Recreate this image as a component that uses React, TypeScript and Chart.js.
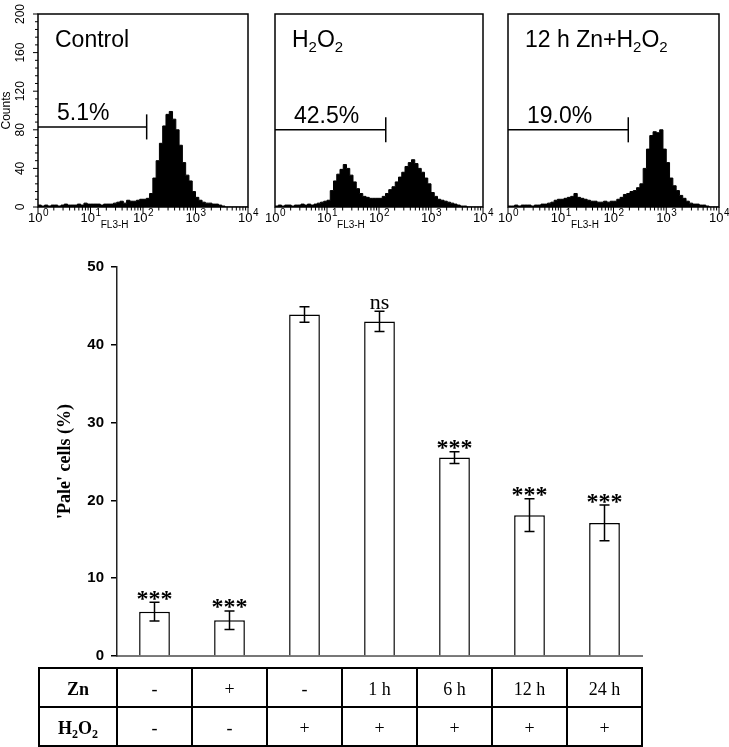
import React, { useEffect, useRef } from "react";
import { Chart, registerables } from "chart.js";

Chart.register(...registerables);

const SANS = '"Liberation Sans", Arial, sans-serif';
const SERIF = '"Liberation Serif", "Times New Roman", serif';

// ---------- Flow-cytometry histograms (x = log10 FL3-H, 16 bins per decade) ----------
const decadeTicks = [0, 1, 2, 3, 4];
const binsPerDecade = 16;
const controlCounts = [
  2, 1, 2, 1, 2, 2, 1, 2, 3, 2, 2, 2, 3, 2, 4, 3,
  3, 3, 3, 2, 3, 3, 3, 4, 5, 6, 4, 7, 6, 6, 7, 8,
  8, 9, 14, 30, 48, 66, 84, 96, 99, 91, 80, 64, 46, 33, 27, 16,
  10, 7, 5, 4, 4, 3, 3, 2, 1, 0, 0, 0, 0, 0, 0, 0,
];
const h2o2Counts = [
  1, 2, 1, 2, 2, 1, 2, 2, 3, 2, 3, 2, 3, 4, 5, 6,
  7, 17, 27, 34, 39, 44, 40, 33, 26, 19, 14, 11, 10, 9, 9, 9,
  9, 11, 14, 18, 21, 26, 31, 36, 42, 46, 49, 45, 40, 36, 30, 24,
  15, 11, 8, 7, 6, 5, 4, 3, 2, 1, 1, 0, 0, 0, 0, 0,
];
const znH2o2Counts = [
  1, 1, 2, 1, 2, 2, 2, 1, 2, 2, 3, 3, 4, 5, 7, 8,
  8, 9, 10, 11, 14, 10, 9, 8, 7, 6, 6, 5, 5, 6, 5, 6,
  6, 8, 10, 13, 14, 16, 17, 20, 24, 40, 60, 74, 78, 77, 80, 60,
  46, 30, 22, 17, 12, 9, 6, 4, 3, 3, 2, 2, 1, 0, 0, 0,
];
const panelCounts = [controlCounts, h2o2Counts, znH2o2Counts];
const panelTitles = ["Control", "H_2O_2", "12 h Zn+H_2O_2"];
const gateLabels = ["5.1%", "42.5%", "19.0%"];
const gateEnds = [2.07, 2.13, 2.28];
const gateLevels = [83, 80, 80];
const gateTickHalf = 13;
const countTicks = [0, 40, 80, 120, 160, 200];
const countMinorStep = 8;
const countAxisTitle = "Counts";
const fluorAxisTitle = "FL3-H";

// ---------- 'Pale' cells bar chart ----------
const znRow = ["-", "+", "-", "1 h", "6 h", "12 h", "24 h"];
const h2o2Row = ["-", "-", "+", "+", "+", "+", "+"];
const rowHeaders = ["Zn", "H_2O_2"];
const paleMeans = [5.7, 4.6, 43.9, 43.0, 25.5, 18.1, 17.1];
const paleErrors = [1.2, 1.2, 1.0, 1.3, 0.75, 2.1, 2.3];
const significance = ["***", "***", "", "ns", "***", "***", "***"];
const paleTicks = [0, 10, 20, 30, 40, 50];
const paleAxisTitle = "'Pale' cells (%)";

// ---------- helpers ----------
type Part = { t: string; sub: boolean };
function parseRich(s: string): Part[] {
  const parts: Part[] = [];
  for (let i = 0; i < s.length; i++) {
    if (s[i] === "_" && i + 1 < s.length) {
      parts.push({ t: s[i + 1], sub: true });
      i++;
    } else {
      const last = parts[parts.length - 1];
      if (last && !last.sub) last.t += s[i];
      else parts.push({ t: s[i], sub: false });
    }
  }
  return parts;
}

function drawRich(
  ctx: CanvasRenderingContext2D,
  s: string,
  x: number,
  y: number,
  size: number,
  family: string,
  weight = "normal",
  align: "left" | "center" = "left"
) {
  const parts = parseRich(s);
  const subSize = Math.round(size * 0.65);
  const widths = parts.map((p) => {
    ctx.font = `${weight} ${p.sub ? subSize : size}px ${family}`;
    return ctx.measureText(p.t).width;
  });
  const total = widths.reduce((a, b) => a + b, 0);
  let cx = align === "center" ? x - total / 2 : x;
  ctx.textAlign = "left";
  ctx.textBaseline = "alphabetic";
  parts.forEach((p, i) => {
    ctx.font = `${weight} ${p.sub ? subSize : size}px ${family}`;
    ctx.fillText(p.t, cx, p.sub ? y + size * 0.22 : y);
    cx += widths[i];
  });
}

function drawPow(ctx: CanvasRenderingContext2D, cx: number, baseY: number, exp: number) {
  ctx.textAlign = "left";
  ctx.textBaseline = "alphabetic";
  ctx.font = `13px ${SANS}`;
  const wb = ctx.measureText("10").width;
  ctx.font = `10px ${SANS}`;
  const we = ctx.measureText(String(exp)).width;
  const start = cx - (wb + we) / 2;
  ctx.font = `13px ${SANS}`;
  ctx.fillText("10", start, baseY);
  ctx.font = `10px ${SANS}`;
  ctx.fillText(String(exp), start + wb + 0.5, baseY - 6);
}

const W = 729;
const HIST_H = 235;
const HIST_TOP = 14;
const HIST_BOTTOM = 207;
const boxes = [
  { l: 38, r: 248 },
  { l: 275, r: 483 },
  { l: 508, r: 719 },
];
const fluorTitleAt = 1.46;

function histPlugin(idx: number) {
  return {
    id: "histDecor" + idx,
    afterDraw(chart: any) {
      const { ctx, chartArea: a, scales } = chart;
      const x = scales.x;
      const y = scales.y;
      ctx.save();
      ctx.strokeStyle = "#000";
      ctx.fillStyle = "#000";
      ctx.lineWidth = 1.5;
      ctx.strokeRect(a.left, a.top, a.right - a.left, a.bottom - a.top);
      // x ticks
      ctx.lineWidth = 1;
      ctx.beginPath();
      decadeTicks.forEach((d) => {
        const px = x.getPixelForValue(d);
        ctx.moveTo(px, a.bottom);
        ctx.lineTo(px, a.bottom + 6);
      });
      decadeTicks.slice(0, -1).forEach((d) => {
        for (let k = 2; k <= 9; k++) {
          const px = x.getPixelForValue(d + Math.log10(k));
          ctx.moveTo(px, a.bottom);
          ctx.lineTo(px, a.bottom + 3.5);
        }
      });
      ctx.stroke();
      decadeTicks.forEach((d) => drawPow(ctx, x.getPixelForValue(d), a.bottom + 15, d));
      ctx.font = `10px ${SANS}`;
      ctx.textAlign = "center";
      ctx.fillText(fluorAxisTitle, x.getPixelForValue(fluorTitleAt), a.bottom + 21);

      // y axis (first panel only)
      if (idx === 0) {
        ctx.beginPath();
        const maxC = countTicks[countTicks.length - 1];
        for (let v = 0; v <= maxC; v += countMinorStep) {
          const py = y.getPixelForValue(v);
          const len = countTicks.includes(v) ? 5 : 3;
          ctx.moveTo(a.left - len, py);
          ctx.lineTo(a.left, py);
        }
        ctx.stroke();
        ctx.font = `12px ${SANS}`;
        ctx.textAlign = "center";
        ctx.textBaseline = "middle";
        countTicks.forEach((v) => {
          ctx.save();
          ctx.translate(a.left - 17, y.getPixelForValue(v));
          ctx.rotate(-Math.PI / 2);
          ctx.fillText(String(v), 0, 0);
          ctx.restore();
        });
        ctx.save();
        ctx.font = `12px ${SANS}`;
        ctx.translate(7, (a.top + a.bottom) / 2);
        ctx.rotate(-Math.PI / 2);
        ctx.fillText(countAxisTitle, 0, 0);
        ctx.restore();
      }

      // title + gate label
      drawRich(ctx, panelTitles[idx], a.left + 17, a.top + 33, 23, SANS);
      drawRich(ctx, gateLabels[idx], a.left + 19, y.getPixelForValue(gateLevels[idx]) - 7, 23, SANS);
      ctx.restore();
    },
  };
}

function Histogram({ idx }: { idx: number }) {
  const ref = useRef<HTMLCanvasElement | null>(null);
  useEffect(() => {
    const counts = panelCounts[idx];
    const pts = counts.map((c, i) => ({ x: i / binsPerDecade, y: c }));
    pts.push({ x: decadeTicks[decadeTicks.length - 1], y: counts[counts.length - 1] });
    const gx = gateEnds[idx];
    const gy = gateLevels[idx];
    const box = boxes[idx];
    const chart = new Chart(ref.current as HTMLCanvasElement, {
      type: "line",
      data: {
        datasets: [
          {
            data: pts,
            stepped: "before",
            fill: "origin",
            backgroundColor: "#000",
            borderColor: "#000",
            borderWidth: 1,
            pointRadius: 0,
          } as any,
          {
            data: [
              { x: 0, y: gy },
              { x: gx, y: gy },
            ],
            borderColor: "#000",
            borderWidth: 1.5,
            pointRadius: 0,
            fill: false,
          },
          {
            data: [
              { x: gx, y: gy - gateTickHalf },
              { x: gx, y: gy + gateTickHalf },
            ],
            borderColor: "#000",
            borderWidth: 1.5,
            pointRadius: 0,
            fill: false,
          },
        ],
      },
      options: {
        responsive: false,
        animation: false,
        devicePixelRatio: 1,
        layout: {
          padding: { left: box.l, right: W - box.r, top: HIST_TOP, bottom: HIST_H - HIST_BOTTOM },
        },
        plugins: { legend: { display: false }, tooltip: { enabled: false } },
        scales: {
          x: { type: "linear", min: 0, max: 4, display: false },
          y: { type: "linear", min: 0, max: countTicks[countTicks.length - 1], display: false },
        },
      },
      plugins: [histPlugin(idx)],
    });
    return () => chart.destroy();
  }, [idx]);
  return (
    <canvas
      ref={ref}
      width={W}
      height={HIST_H}
      style={{ position: "absolute", left: 0, top: 0, width: W, height: HIST_H }}
    />
  );
}

const BAR_TOP = 250;
const BAR_H = 497;

const barPlugin = {
  id: "barDecor",
  afterDatasetsDraw(chart: any) {
    const { ctx, scales } = chart;
    const y = scales.y;
    const meta = chart.getDatasetMeta(0);
    ctx.save();
    ctx.strokeStyle = "#000";
    ctx.fillStyle = "#000";
    ctx.lineWidth = 1.5;
    meta.data.forEach((bar: any, i: number) => {
      const cx = bar.x;
      const top = y.getPixelForValue(paleMeans[i] + paleErrors[i]);
      const bot = y.getPixelForValue(paleMeans[i] - paleErrors[i]);
      ctx.beginPath();
      ctx.moveTo(cx, top);
      ctx.lineTo(cx, bot);
      ctx.moveTo(cx - 5, top);
      ctx.lineTo(cx + 5, top);
      ctx.moveTo(cx - 5, bot);
      ctx.lineTo(cx + 5, bot);
      ctx.stroke();
      const s = significance[i];
      if (s) {
        ctx.textAlign = "center";
        ctx.textBaseline = "alphabetic";
        if (s === "ns") {
          ctx.font = `22px ${SERIF}`;
          ctx.fillText(s, cx, top - 2);
        } else {
          ctx.font = `bold 24px ${SERIF}`;
          ctx.fillText(s, cx, top + 3.5);
        }
      }
    });
    ctx.restore();
  },
  afterDraw(chart: any) {
    const { ctx, chartArea: a, scales } = chart;
    const x = scales.x;
    const half = (x.getPixelForValue(1) - x.getPixelForValue(0)) / 2;
    const tableLeft = 39;
    const tableTop = a.bottom + 12;
    const rowH = 39;
    const edges = [tableLeft];
    znRow.forEach((_, i) => edges.push(x.getPixelForValue(i) - half));
    edges.push(x.getPixelForValue(znRow.length - 1) + half);
    const right = edges[edges.length - 1];
    ctx.save();
    ctx.strokeStyle = "#000";
    ctx.fillStyle = "#000";
    ctx.lineWidth = 2;
    ctx.strokeRect(tableLeft, tableTop, right - tableLeft, rowH * 2);
    ctx.beginPath();
    ctx.moveTo(tableLeft, tableTop + rowH);
    ctx.lineTo(right, tableTop + rowH);
    for (let k = 1; k < edges.length - 1; k++) {
      ctx.moveTo(edges[k], tableTop);
      ctx.lineTo(edges[k], tableTop + rowH * 2);
    }
    ctx.stroke();
    const rows = [znRow, h2o2Row];
    rows.forEach((row, r) => {
      const base = tableTop + rowH * (r + 1) - 12;
      drawRich(ctx, rowHeaders[r], (edges[0] + edges[1]) / 2, base, 18, SERIF, "bold", "center");
      ctx.font = `18px ${SERIF}`;
      ctx.textAlign = "center";
      ctx.textBaseline = "alphabetic";
      row.forEach((v, i) => {
        ctx.fillText(v, (edges[i + 1] + edges[i + 2]) / 2, base);
      });
    });
    ctx.restore();
  },
};

function BarPanel() {
  const ref = useRef<HTMLCanvasElement | null>(null);
  useEffect(() => {
    const chart = new Chart(ref.current as HTMLCanvasElement, {
      type: "bar",
      data: {
        labels: znRow.map((z, i) => `Zn ${z}, H2O2 ${h2o2Row[i]}`),
        datasets: [
          {
            data: paleMeans,
            backgroundColor: "#fff",
            borderColor: "#000",
            borderWidth: 1.5,
            barPercentage: 0.41,
            categoryPercentage: 1,
          },
        ],
      },
      options: {
        responsive: false,
        animation: false,
        devicePixelRatio: 1,
        layout: { padding: { left: 0, right: 87, top: 17, bottom: 91 } },
        plugins: { legend: { display: false }, tooltip: { enabled: false } },
        scales: {
          x: {
            ticks: { display: false },
            grid: { display: false },
            border: { display: true, color: "#777", width: 2 },
            afterFit: (s: any) => {
              s.height = 0;
            },
          },
          y: {
            min: paleTicks[0],
            max: paleTicks[paleTicks.length - 1],
            afterBuildTicks: (s: any) => {
              s.ticks = paleTicks.map((v) => ({ value: v }));
            },
            ticks: {
              color: "#000",
              font: { family: SANS, size: 15, weight: "bold" },
              padding: 7,
            },
            grid: {
              display: true,
              drawOnChartArea: false,
              drawTicks: true,
              tickLength: 6,
              color: "#000",
              lineWidth: 1.5,
            },
            border: { display: true, color: "#222", width: 1.5 },
            title: {
              display: true,
              text: paleAxisTitle,
              color: "#000",
              font: { family: SERIF, size: 18, weight: "bold" },
              padding: { top: 55, bottom: 0 },
            },
            afterFit: (s: any) => {
              s.width = 117;
            },
          },
        },
      } as any,
      plugins: [barPlugin],
    });
    return () => chart.destroy();
  }, []);
  return (
    <canvas
      ref={ref}
      width={W}
      height={BAR_H}
      style={{ position: "absolute", left: 0, top: BAR_TOP, width: W, height: BAR_H }}
    />
  );
}

export default function App() {
  return (
    <div
      style={{
        position: "absolute",
        left: 0,
        top: 0,
        width: W,
        height: 747,
        background: "#fff",
        overflow: "hidden",
      }}
    >
      {panelTitles.map((_, i) => (
        <Histogram key={i} idx={i} />
      ))}
      <BarPanel />
    </div>
  );
}
